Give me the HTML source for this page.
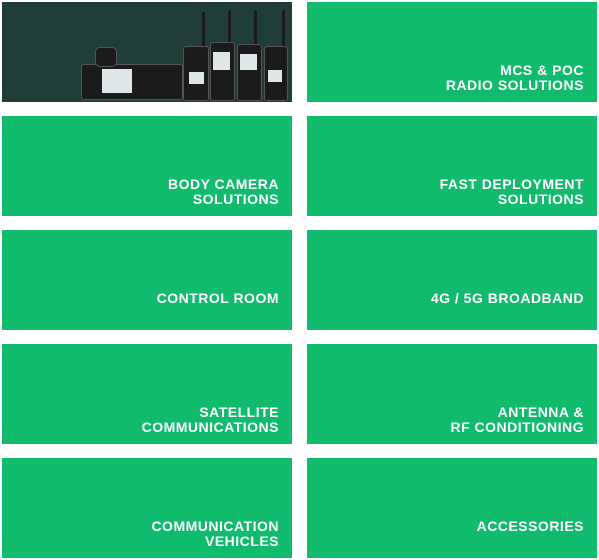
<!DOCTYPE html>
<html><head><meta charset="utf-8"><style>
body{margin:0;width:599px;height:560px;background:#fff;position:relative;overflow:hidden;font-family:"Liberation Sans",sans-serif}
.t{position:absolute;width:290px;height:100px;background:#11bb6d;color:#fff;font-weight:bold;font-size:14px;line-height:15px;text-align:right;box-sizing:border-box;padding:61px 13px 0 0;letter-spacing:0.5px}
.l{left:2px}.r{left:307px}
.img{background:#213d38;padding:0}
.p{position:absolute;background:#1b1b1b;border:1px solid #555;border-radius:3px}
.s{position:absolute;background:#dfe6e8}
.a{position:absolute;background:#1b1b1b;width:3px;border-radius:1px}
</style></head><body>
<div class="t l img" style="top:2px">
 <div class="p" style="left:79px;top:62px;width:100px;height:34px"></div>
 <div class="s" style="left:100px;top:67px;width:30px;height:24px"></div>
 <div class="p" style="left:93px;top:45px;width:20px;height:18px;border-radius:5px"></div>
 <div class="a" style="left:200px;top:10px;height:38px"></div>
 <div class="p" style="left:181px;top:44px;width:24px;height:53px"></div>
 <div class="s" style="left:187px;top:70px;width:15px;height:12px"></div>
 <div class="a" style="left:226px;top:8px;height:38px"></div>
 <div class="p" style="left:208px;top:40px;width:23px;height:57px"></div>
 <div class="s" style="left:211px;top:50px;width:17px;height:18px"></div>
 <div class="a" style="left:252px;top:8px;height:38px"></div>
 <div class="p" style="left:235px;top:42px;width:23px;height:55px"></div>
 <div class="s" style="left:238px;top:52px;width:17px;height:16px"></div>
 <div class="a" style="left:280px;top:8px;height:40px"></div>
 <div class="p" style="left:262px;top:44px;width:22px;height:53px"></div>
 <div class="s" style="left:266px;top:68px;width:14px;height:12px"></div>
</div>
<div class="t r" style="top:2px">MCS &amp; POC<br>RADIO SOLUTIONS</div>
<div class="t l" style="top:116px">BODY CAMERA<br>SOLUTIONS</div>
<div class="t r" style="top:116px">FAST DEPLOYMENT<br>SOLUTIONS</div>
<div class="t l" style="top:230px">CONTROL ROOM</div>
<div class="t r" style="top:230px">4G / 5G BROADBAND</div>
<div class="t l" style="top:344px">SATELLITE<br>COMMUNICATIONS</div>
<div class="t r" style="top:344px">ANTENNA &amp;<br>RF CONDITIONING</div>
<div class="t l" style="top:458px">COMMUNICATION<br>VEHICLES</div>
<div class="t r" style="top:458px">ACCESSORIES</div>
</body></html>
